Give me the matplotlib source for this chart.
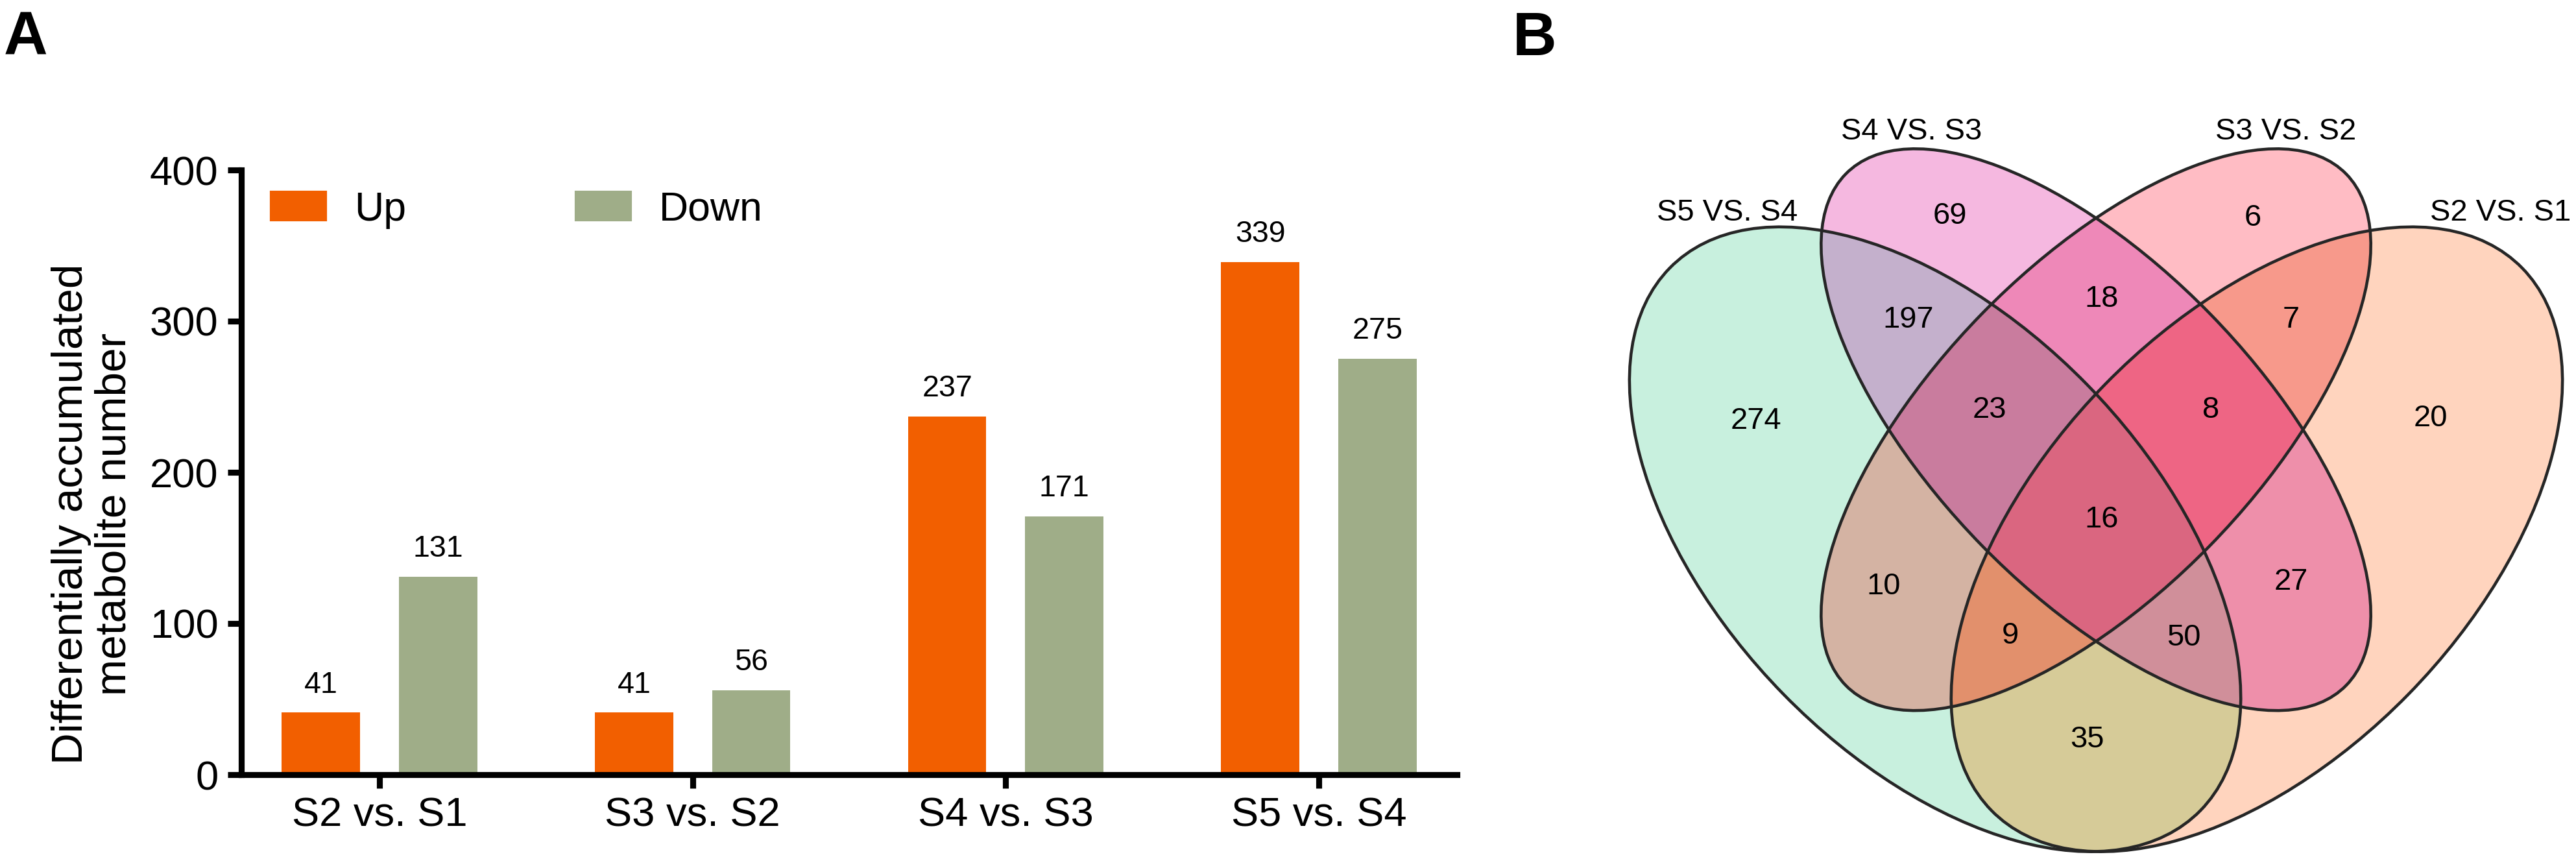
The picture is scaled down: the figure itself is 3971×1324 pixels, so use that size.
import matplotlib
matplotlib.use("Agg")
import numpy as np
import matplotlib.pyplot as plt
from matplotlib.patches import Ellipse, Patch, Polygon

plt.rcParams['font.family'] = ['Liberation Sans', 'DejaVu Sans']

# ---------------- data ----------------
comparisons = ["S2 vs. S1", "S3 vs. S2", "S4 vs. S3", "S5 vs. S4"]
up_counts = [41, 41, 237, 339]
down_counts = [131, 56, 171, 275]
series_names = ["Up", "Down"]
y_ticks = [0, 100, 200, 300, 400]

venn_sets = ["S5 VS. S4", "S4 VS. S3", "S3 VS. S2", "S2 VS. S1"]
# membership code: (S5vsS4, S4vsS3, S3vsS2, S2vsS1)
venn_regions = ["1000", "0100", "0010", "0001", "1100", "0110", "0011",
                "1010", "0101", "1001", "1110", "0111", "1011", "1101", "1111"]
venn_counts = [274, 69, 6, 20, 197, 18, 7, 10, 27, 35, 23, 8, 9, 50, 16]

# ---------------- styles / layout ----------------
bar_colors = ["#F25F00", "#9FAD88"]
region_colors = {
    "1000": "#C8F0DE", "0100": "#F5B8E0", "0010": "#FFBCC4", "0001": "#FFD4BE",
    "1100": "#C4B0CC", "0110": "#EE88B8", "0011": "#F7998B", "1010": "#D4B3A3",
    "0101": "#EE8FAA", "1001": "#D6CB98", "1110": "#C97C9E", "0111": "#EE6584",
    "1011": "#E2906C", "1101": "#D08F9A", "1111": "#DA6680",
}
# quad venn layout (VennDiagram style): centre x, centre y, a, b, rotation
ell_x = [0.35, 0.50, 0.50, 0.65]
ell_y = [0.47, 0.57, 0.57, 0.47]
ell_a = [0.35, 0.33, 0.33, 0.35]
ell_b = [0.20, 0.15, 0.15, 0.20]
ell_rot = [135, 135, 45, 45]
region_pos = {
    "1000": (0.183, 0.578), "0100": (0.364, 0.765), "0010": (0.646, 0.763),
    "0001": (0.812, 0.580), "1100": (0.325, 0.670), "0110": (0.505, 0.689),
    "0011": (0.682, 0.670), "1010": (0.302, 0.427), "0101": (0.682, 0.431),
    "1001": (0.492, 0.287), "1110": (0.401, 0.588), "0111": (0.607, 0.588),
    "1011": (0.420, 0.382), "1101": (0.582, 0.380), "1111": (0.505, 0.488),
}
cat_pos = [(0.156, 0.768), (0.328, 0.842), (0.677, 0.842), (0.877, 0.768)]


def ellipse_poly(i, n=360):
    t = np.linspace(0, 2 * np.pi, n, endpoint=False)
    th = np.deg2rad(ell_rot[i])
    ca, sa = np.cos(t) * ell_a[i], np.sin(t) * ell_b[i]
    xs = ell_x[i] + ca * np.cos(th) - sa * np.sin(th)
    ys = ell_y[i] + ca * np.sin(th) + sa * np.cos(th)
    return np.column_stack([xs, ys])


def clip_convex(subject, clipper):
    out = subject
    n = len(clipper)
    for k in range(n):
        A = clipper[k]
        B = clipper[(k + 1) % n]
        if len(out) == 0:
            break
        inp = out
        e = B - A
        side = e[0] * (inp[:, 1] - A[1]) - e[1] * (inp[:, 0] - A[0])
        prev = np.roll(inp, 1, axis=0)
        sprev = np.roll(side, 1)
        res = []
        for j in range(len(inp)):
            P, Q = inp[j], prev[j]
            sp, sq = side[j], sprev[j]
            if sp >= 0:
                if sq < 0:
                    res.append(Q + (P - Q) * (sq / (sq - sp)))
                res.append(P)
            elif sq >= 0:
                res.append(Q + (P - Q) * (sq / (sq - sp)))
        out = np.array(res) if res else np.zeros((0, 2))
    return out


W, H = 3971, 1324
fig = plt.figure(figsize=(W / 300, H / 300), dpi=300)

# ---------------- panel A ----------------
ax = fig.add_axes([372 / W, (H - 1194) / H, (2246 - 372) / W, (1194 - 262) / H])
x = list(range(len(comparisons)))
bw = 0.25
off = 0.187
b1 = ax.bar([i - off for i in x], up_counts, bw, color=bar_colors[0], label=series_names[0])
b2 = ax.bar([i + off for i in x], down_counts, bw, color=bar_colors[1], label=series_names[1])
ax.bar_label(b1, padding=5, fontsize=11.2)
ax.bar_label(b2, padding=5, fontsize=11.2)
ax.set_xlim(-0.441, 3.441)
ax.set_ylim(0, 400)
ax.set_yticks(y_ticks)
ax.set_xticks(x)
ax.set_xticklabels(comparisons)
for s in ["top", "right"]:
    ax.spines[s].set_visible(False)
for s in ["left", "bottom"]:
    ax.spines[s].set_linewidth(2.2)
ax.tick_params(axis="both", width=2.2, length=5, labelsize=15.2)
ax.tick_params(axis="x", pad=3)
ax.tick_params(axis="y", pad=3.5)

ax.legend(handles=[Patch(color=bar_colors[0]), Patch(color=bar_colors[1])],
          labels=series_names, ncol=2, frameon=False, fontsize=15,
          loc="upper left", bbox_to_anchor=(0.0245, 0.966),
          borderpad=0, borderaxespad=0, handlelength=1.344,
          handleheight=0.688, handletextpad=0.7, columnspacing=4.2)

fig.text(143 / W, 1 - 792 / H, "Differentially accumulated\nmetabolite number",
         rotation=90, ha="center", va="center", fontsize=16.2, linespacing=1.1,
         multialignment="center")

fig.text(6 / W, 1 - 85 / H, "A", fontsize=22.5, fontweight="bold", va="baseline", ha="left")
fig.text(2332 / W, 1 - 85 / H, "B", fontsize=22.5, fontweight="bold", va="baseline", ha="left")

# ---------------- panel B ----------------
vx = 3231 - 0.5 * 1653
ax2 = fig.add_axes([vx / W, (H - 1625) / H, 1653 / W, 1689 / H])
ax2.set_xlim(0, 1)
ax2.set_ylim(0, 1)
ax2.axis("off")

polys = [ellipse_poly(i) for i in range(4)]
order = sorted(venn_regions, key=lambda c: c.count("1"))
for code in order:
    members = [i for i, ch in enumerate(code) if ch == "1"]
    poly = polys[members[0]]
    for m in members[1:]:
        poly = clip_convex(poly, polys[m])
    if len(poly) >= 3:
        ax2.add_patch(Polygon(poly, closed=True, facecolor=region_colors[code],
                              edgecolor=region_colors[code], linewidth=0.3))
for i in range(4):
    ax2.add_patch(Ellipse((ell_x[i], ell_y[i]), 2 * ell_a[i], 2 * ell_b[i],
                          angle=ell_rot[i], facecolor="none",
                          edgecolor="#262626", linewidth=1.1))
for code, n in zip(venn_regions, venn_counts):
    px, py = region_pos[code]
    ax2.text(px, py, str(n), ha="center", va="center", fontsize=11.3)
for name, (px, py) in zip(venn_sets, cat_pos):
    ax2.text(px, py, name, ha="center", va="center", fontsize=11.3)

fig.savefig("out.png", dpi=300)
